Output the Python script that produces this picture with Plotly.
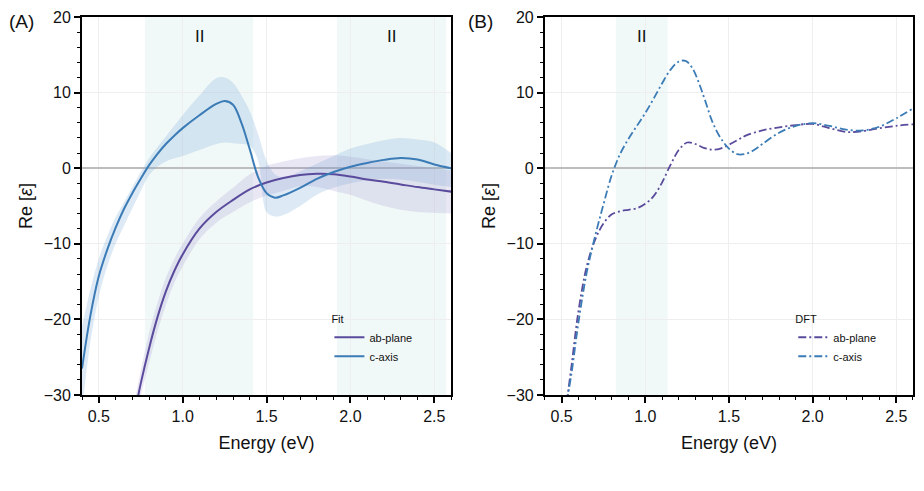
import plotly.graph_objects as go

# ---------------- data ----------------
# Panel A: fit, c-axis
fit_c_E = [0.40, 0.45, 0.50, 0.55, 0.60, 0.65, 0.70, 0.75, 0.80, 0.85, 0.90, 0.95, 1.00, 1.10, 1.20, 1.25,
           1.30, 1.35, 1.40, 1.45, 1.50, 1.55, 1.60, 1.70, 1.80, 1.90, 2.00, 2.10, 2.20, 2.30, 2.40, 2.50, 2.60]
fit_c = [-26.5, -19.5, -14.3, -10.8, -7.9, -5.4, -3.3, -1.4, 0.4, 1.9, 3.2, 4.3, 5.3, 7.0, 8.5, 8.9,
         8.4, 6.0, 2.5, -1.2, -3.3, -3.9, -3.6, -2.6, -1.4, -0.5, 0.2, 0.7, 1.1, 1.35, 1.15, 0.5, 0.0]
fit_c_hi = [-21.0, -16.0, -12.0, -9.0, -6.5, -4.5, -2.5, -0.5, 1.3, 2.8, 4.2, 5.6, 7.0, 9.6, 11.9, 12.0,
            11.3, 9.6, 7.5, 4.5, 1.0, -0.8, -1.2, -0.4, 0.6, 1.6, 2.6, 3.2, 3.7, 4.0, 3.8, 3.4, 2.0]
fit_c_lo = [-32.0, -23.0, -17.0, -13.0, -10.0, -7.6, -5.3, -3.0, -0.9, 0.2, 0.9, 1.3, 1.6, 2.4, 3.2, 3.4,
            3.3, 3.2, 3.0, 1.0, -5.8, -6.4, -6.2, -5.0, -3.5, -2.6, -2.0, -1.6, -1.4, -1.5, -1.8, -2.2, -2.5]

# Panel A: fit, ab-plane
fit_ab_E = [0.70, 0.75, 0.80, 0.85, 0.90, 0.95, 1.00, 1.10, 1.20, 1.30, 1.40, 1.50, 1.60, 1.70, 1.80,
            1.90, 2.00, 2.10, 2.20, 2.30, 2.40, 2.50, 2.60]
fit_ab = [-34.0, -28.5, -23.8, -19.7, -16.3, -13.6, -11.4, -8.0, -5.8, -4.2, -2.8, -1.9, -1.3, -0.9, -0.75,
          -0.8, -1.1, -1.5, -1.8, -2.15, -2.5, -2.8, -3.1]
fit_ab_hi = [-32.5, -26.8, -21.8, -17.8, -14.5, -12.0, -10.0, -6.6, -4.4, -2.6, -0.8, 0.3, 0.9, 1.3, 1.6,
             1.7, 1.5, 1.2, 0.9, 0.6, 0.3, 0.0, -0.3]
fit_ab_lo = [-35.5, -30.2, -25.8, -21.6, -18.1, -15.2, -13.0, -9.4, -7.2, -5.8, -4.5, -3.6, -3.0, -2.4, -2.5,
             -3.0, -3.5, -4.3, -5.0, -5.5, -5.8, -5.9, -6.0]

# Panel B: DFT
dft_c_E = [0.53, 0.56, 0.60, 0.65, 0.70, 0.75, 0.80, 0.85, 0.90, 0.95, 1.00, 1.05, 1.10, 1.15, 1.20, 1.24,
           1.28, 1.32, 1.36, 1.40, 1.45, 1.50, 1.55, 1.60, 1.65, 1.70, 1.80, 1.90, 2.00, 2.10, 2.20, 2.30,
           2.40, 2.50, 2.60]
dft_c = [-31.0, -27.0, -20.5, -13.8, -9.0, -4.8, -0.9, 1.9, 3.9, 5.6, 7.3, 9.2, 11.2, 13.0, 14.1, 14.2,
         13.3, 11.3, 8.8, 6.2, 4.0, 2.6, 1.85, 1.9, 2.4, 3.2, 4.7, 5.6, 5.95, 5.6, 5.1, 5.0,
         5.5, 6.6, 7.9]
dft_ab_E = [0.53, 0.56, 0.60, 0.65, 0.70, 0.75, 0.80, 0.85, 0.90, 0.95, 1.00, 1.05, 1.10, 1.15, 1.20, 1.25,
            1.30, 1.35, 1.40, 1.45, 1.50, 1.55, 1.60, 1.70, 1.80, 1.90, 2.00, 2.10, 2.20, 2.30, 2.40, 2.50, 2.60]
dft_ab = [-31.0, -26.0, -19.0, -13.0, -9.5, -7.3, -6.1, -5.7, -5.5, -5.3, -4.7, -3.7, -1.9, 0.4, 2.4, 3.4,
          3.2, 2.7, 2.45, 2.6, 3.1, 3.7, 4.3, 5.0, 5.4, 5.7, 5.85, 5.3, 4.8, 4.9, 5.3, 5.6, 5.8]

# shaded regions (eV)
regions_A = [(0.775, 1.42), (1.92, 2.57)]
regions_B = [(0.824, 1.134)]
region_label = "II"

PURPLE = "#5a4b9c"
BLUE = "#3b7bb6"
FONT = "Liberation Sans, Arial, sans-serif"

fig = go.Figure()


def band(x, lo, hi, color, xa, ya):
    fig.add_trace(go.Scatter(x=x, y=lo, mode="lines", line=dict(width=0, shape="spline", color=color),
                             showlegend=False, hoverinfo="skip", xaxis=xa, yaxis=ya))
    fig.add_trace(go.Scatter(x=x, y=hi, mode="lines", line=dict(width=0, shape="spline", color=color),
                             fill="tonexty", fillcolor=color, showlegend=False, hoverinfo="skip",
                             xaxis=xa, yaxis=ya))


band(fit_c_E, fit_c_lo, fit_c_hi, "rgba(120,170,215,0.25)", "x", "y")
band(fit_ab_E, fit_ab_lo, fit_ab_hi, "rgba(150,135,200,0.20)", "x", "y")

fig.add_trace(go.Scatter(x=fit_ab_E, y=fit_ab, mode="lines", name="ab-plane",
                         line=dict(color=PURPLE, width=2, shape="spline"), legend="legend"))
fig.add_trace(go.Scatter(x=fit_c_E, y=fit_c, mode="lines", name="c-axis",
                         line=dict(color=BLUE, width=2, shape="spline"), legend="legend"))

DASH = "8px,3px,2px,3px"
fig.add_trace(go.Scatter(x=dft_ab_E, y=dft_ab, mode="lines", name="ab-plane", xaxis="x2", yaxis="y2",
                         line=dict(color=PURPLE, width=1.8, shape="spline", dash=DASH), legend="legend2"))
fig.add_trace(go.Scatter(x=dft_c_E, y=dft_c, mode="lines", name="c-axis", xaxis="x2", yaxis="y2",
                         line=dict(color=BLUE, width=1.8, shape="spline", dash=DASH), legend="legend2"))

SHADE = "rgba(214,234,234,0.35)"
shapes = []
annotations = []
for (a, b) in regions_A:
    shapes.append(dict(type="rect", xref="x", yref="y", x0=a, x1=b, y0=-30, y1=20,
                       fillcolor=SHADE, line=dict(width=0), layer="below"))
    annotations.append(dict(x=(a + b) / 2, y=17.4, xref="x", yref="y", text=region_label,
                            showarrow=False, font=dict(size=17, color="#111")))
for (a, b) in regions_B:
    shapes.append(dict(type="rect", xref="x2", yref="y2", x0=a, x1=b, y0=-30, y1=20,
                       fillcolor=SHADE, line=dict(width=0), layer="below"))
    annotations.append(dict(x=(a + b) / 2, y=17.4, xref="x2", yref="y2", text=region_label,
                            showarrow=False, font=dict(size=17, color="#111")))

W, H = 924, 491
ML, MR, MT, MB = 82, 9, 15, 96
PW = W - ML - MR
PH = H - MT - MB


def px(xp):
    return (xp - ML) / PW


def py(yp):
    return (H - MB - yp) / PH


annotations.append(dict(x=px(21), y=py(20), xref="paper", yref="paper", text="(A)", showarrow=False,
                        xanchor="center", yanchor="middle", font=dict(size=19, color="#111")))
annotations.append(dict(x=px(481), y=py(20), xref="paper", yref="paper", text="(B)", showarrow=False,
                        xanchor="center", yanchor="middle", font=dict(size=19, color="#111")))

xaxis_common = dict(range=[0.4, 2.6], tick0=0.5, dtick=0.5, ticks="outside", ticklen=6, tickwidth=1.5,
                    tickcolor="black", showline=True, linecolor="black", linewidth=2, mirror=True,
                    showgrid=True, gridcolor="#eeeeee", gridwidth=1, zeroline=False,
                    tickfont=dict(size=16, color="#111"), tickformat=".1f",
                    minor=dict(dtick=0.1, tick0=0.4, ticks="outside", ticklen=3, tickwidth=1.2,
                               tickcolor="black", showgrid=False),
                    title=dict(text="Energy (eV)", font=dict(size=18, color="#111"), standoff=12))
yaxis_common = dict(range=[-30, 20], tick0=-30, dtick=10, ticks="outside", ticklen=6, tickwidth=1.5,
                    tickcolor="black", showline=True, linecolor="black", linewidth=2, mirror=True,
                    showgrid=True, gridcolor="#eeeeee", gridwidth=1,
                    zeroline=True, zerolinecolor="#bdbdbd", zerolinewidth=2,
                    tickfont=dict(size=16, color="#111"),
                    minor=dict(dtick=2, tick0=0, ticks="outside", ticklen=3, tickwidth=1.2,
                               tickcolor="black", showgrid=False),
                    title=dict(text="Re [<i>ε</i>]", font=dict(size=18, color="#111"), standoff=6))

legend_common = dict(font=dict(size=11, color="#111"), bgcolor="rgba(0,0,0,0)", borderwidth=0,
                     xanchor="left", yanchor="top", tracegroupgap=0, itemwidth=30, traceorder="normal")

fig.update_layout(
    width=W, height=H,
    margin=dict(l=ML, r=MR, t=MT, b=MB),
    paper_bgcolor="white", plot_bgcolor="white",
    font=dict(family=FONT, color="#111"),
    xaxis=dict(domain=[0, px(452)], anchor="y", **xaxis_common),
    yaxis=dict(domain=[0, 1], anchor="x", **yaxis_common),
    xaxis2=dict(domain=[px(546), 1], anchor="y2", **xaxis_common),
    yaxis2=dict(domain=[0, 1], anchor="x2", **yaxis_common),
    legend=dict(x=px(330), y=py(308), title=dict(text="Fit", font=dict(size=11)), **legend_common),
    legend2=dict(x=px(795), y=py(308), title=dict(text="DFT", font=dict(size=11)), **legend_common),
    shapes=shapes,
    annotations=annotations,
    showlegend=True,
)

fig.write_html("out.html")
